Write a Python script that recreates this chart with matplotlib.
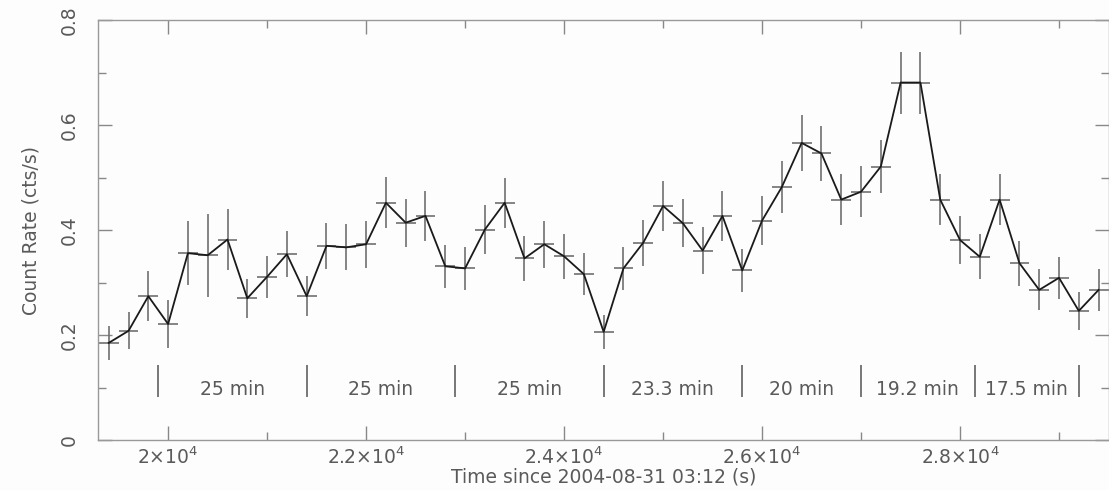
import numpy as np
import matplotlib.pyplot as plt
from matplotlib.ticker import MultipleLocator, FuncFormatter

# light curve, 200 s bins
time = [19400, 19600, 19800, 20000, 20200, 20400, 20600, 20800, 21000, 21200,
        21400, 21600, 21800, 22000, 22200, 22400, 22600, 22800, 23000, 23200,
        23400, 23600, 23800, 24000, 24200, 24400, 24600, 24800, 25000, 25200,
        25400, 25600, 25800, 26000, 26200, 26400, 26600, 26800, 27000, 27200,
        27400, 27600, 27800, 28000, 28200, 28400, 28600, 28800, 29000, 29200,
        29400]
half_bin = 100

rate = [0.185, 0.208, 0.274, 0.221, 0.356, 0.352, 0.382, 0.270, 0.311, 0.354,
        0.274, 0.370, 0.367, 0.373, 0.452, 0.414, 0.427, 0.331, 0.327, 0.401,
        0.452, 0.346, 0.373, 0.350, 0.316, 0.206, 0.327, 0.376, 0.446, 0.413,
        0.361, 0.427, 0.323, 0.418, 0.482, 0.566, 0.546, 0.458, 0.473, 0.521,
        0.681, 0.681, 0.458, 0.381, 0.349, 0.458, 0.337, 0.286, 0.309, 0.246,
        0.286]

rate_err = [0.032, 0.035, 0.048, 0.045, 0.061, 0.079, 0.058, 0.037, 0.040, 0.044,
            0.038, 0.044, 0.044, 0.045, 0.049, 0.046, 0.047, 0.041, 0.041, 0.046,
            0.048, 0.043, 0.045, 0.043, 0.040, 0.032, 0.041, 0.044, 0.048, 0.046,
            0.044, 0.047, 0.041, 0.046, 0.049, 0.053, 0.052, 0.048, 0.049, 0.051,
            0.059, 0.059, 0.048, 0.045, 0.043, 0.049, 0.043, 0.039, 0.040, 0.036,
            0.040]

# intervals between successive dips
period_start = 19900
period_min = [25, 25, 25, 23.3, 20, 19.2, 17.5]
period_labels = ["25 min", "25 min", "25 min", "23.3 min", "20 min", "19.2 min", "17.5 min"]

txt = "#5a5a5a"

fig = plt.figure(figsize=(11.09, 4.9), dpi=100, facecolor="#fdfdfd")
ax = fig.add_axes([0.0884, 0.102, 0.9116, 0.857])
ax.set_facecolor("#fdfdfd")

ax.errorbar(time, rate, yerr=rate_err, xerr=half_bin, fmt="none",
            ecolor="#707070", elinewidth=1.2, capsize=0, zorder=2)
ax.plot(time, rate, color="#1a1a1a", linewidth=1.3, zorder=3)

# period markers
edges = period_start + np.concatenate([[0], np.cumsum(period_min)]) * 60
ax.vlines(edges, 0.082, 0.143, color="#606060", linewidth=1.2)
for lo, hi, lab in zip(edges[:-1], edges[1:], period_labels):
    ax.text((lo + hi) / 2, 0.097, lab, ha="center", va="center",
            fontsize=13.5, color=txt)

ax.set_xlim(19292, 29505)
ax.set_ylim(0, 0.8)

ax.xaxis.set_major_locator(MultipleLocator(2000))
ax.xaxis.set_minor_locator(MultipleLocator(1000))
ax.yaxis.set_major_locator(MultipleLocator(0.2))
ax.yaxis.set_minor_locator(MultipleLocator(0.1))


def sci_fmt(x, pos):
    return r"%g$\times$10$^{4}$" % (x / 1e4)


ax.xaxis.set_major_formatter(FuncFormatter(sci_fmt))
ax.yaxis.set_major_formatter(FuncFormatter(lambda y, pos: "%g" % y))

ax.tick_params(which="both", direction="in", top=True, right=True, colors="#888888",
               labelcolor=txt, labelsize=13.5)
ax.tick_params(which="major", length=10, width=1)
ax.tick_params(which="minor", length=6, width=1)
ax.tick_params(axis="x", pad=5)
ax.tick_params(axis="y", pad=14)
for lab in ax.get_yticklabels():
    lab.set_rotation(90)
    lab.set_va("center")

for sp in ax.spines.values():
    sp.set_color("#999999")
    sp.set_linewidth(1)

ax.set_xlabel("Time since 2004-08-31 03:12 (s)", fontsize=13.5, color=txt, labelpad=-1)
ax.set_ylabel("Count Rate (cts/s)", fontsize=13.5, color=txt, labelpad=14)

fig.savefig("out.png", dpi=100, facecolor=fig.get_facecolor())
